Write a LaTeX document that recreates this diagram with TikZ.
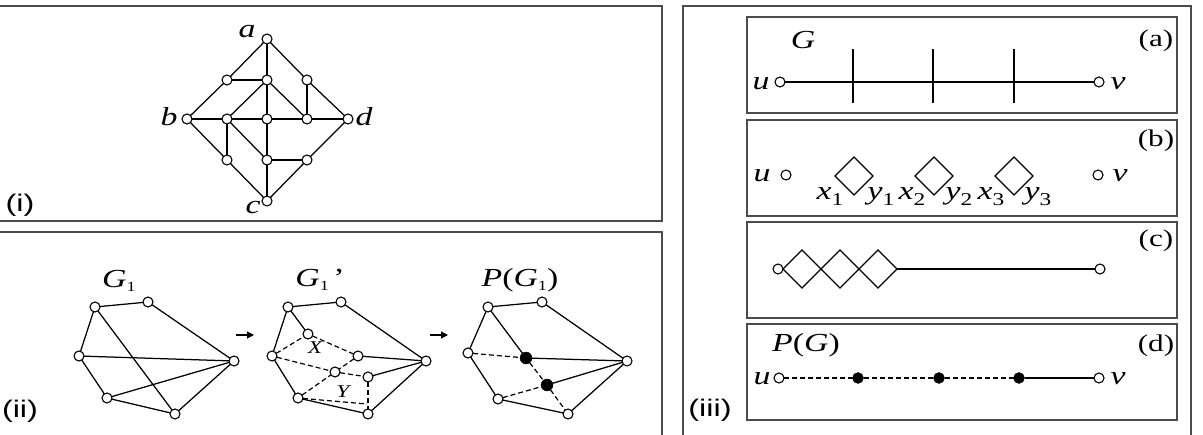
\documentclass[tikz,border=0pt]{standalone}
\usepackage{fontspec}
\setmainfont{Liberation Serif}[FakeStretch=1.3]
\newfontfamily\labsans{Liberation Sans}[FakeStretch=1.35]
\usetikzlibrary{arrows.meta}
\newcommand{\subA}[1]{\raisebox{-4pt}{\upshape\fontsize{14}{14}\selectfont #1}}
\newcommand{\subB}[1]{\raisebox{-6pt}{\upshape\fontsize{18}{18}\selectfont #1}}
\begin{document}
\begin{tikzpicture}[x=1pt,y=-1pt,
  every node/.style={inner sep=0pt, outer sep=0pt},
  vtx/.style={circle, draw, fill=white, minimum size=10pt, line width=1.1pt},
  bvtx/.style={circle, draw, fill=black, minimum size=11pt},
  edge/.style={line width=1.25pt},
  dedge/.style={line width=1.2pt, dash pattern=on 5pt off 3pt},
  panel/.style={draw=black!70, line width=1.7pt},
  txt/.style={font=\fontsize{26}{26}\selectfont\itshape, anchor=base},
  rtxt/.style={font=\fontsize{24}{24}\selectfont, anchor=base},
  stxt/.style={font=\fontsize{24}{24}\selectfont\labsans, anchor=base},
  smtxt/.style={font=\fontsize{18}{18}\selectfont\itshape, anchor=center},
  arr/.style={line width=1.2pt, -{Triangle[length=7pt,width=7pt]}}
]
\useasboundingbox (0,0) rectangle (1203,435);
% panels
\draw[panel] (-5,6) rectangle (662,221);
\draw[panel] (-5,232) rectangle (662,445);
\draw[panel] (683,6) rectangle (1191,445);
\draw[panel] (747,17) rectangle (1177,113);
\draw[panel] (747,120) rectangle (1177,216);
\draw[panel] (747,222) rectangle (1177,318);
\draw[panel] (747,324) rectangle (1177,420);

% ---------- panel (i)
\node[vtx] (ia) at (267,39) {};
\node[vtx] (itl) at (227,80) {};
\node[vtx] (itc) at (267,80) {};
\node[vtx] (itr) at (307,80) {};
\node[vtx] (ib) at (187,119) {};
\node[vtx] (iil) at (227,119) {};
\node[vtx] (ic) at (267,119) {};
\node[vtx] (iir) at (307,119) {};
\node[vtx] (id) at (348,119) {};
\node[vtx] (ibl) at (227,160) {};
\node[vtx] (ibc) at (267,160) {};
\node[vtx] (ibr) at (307,160) {};
\node[vtx] (icc) at (267,201) {};
\foreach \p/\q in {ia/itl,ia/itc,ia/itr,itl/itc,itl/ib,itr/id,itr/iir,itc/iil,itc/ic,itc/iir,
  ib/iil,iil/ic,ic/iir,iir/id,ib/ibl,iil/ibl,iil/ibc,ic/ibc,ibc/ibr,ibr/id,ibl/icc,ibc/icc,ibr/icc}
  \draw[edge] (\p) -- (\q);
\node[txt] (la) at (247,38) {a};
\node[txt] (lb) at (169,126) {b};
\node[txt] (ld) at (364,126) {d};
\node[txt] (lc) at (253,214) {c};
\node[stxt] (li) at (20,212) {(i)};

% ---------- panel (ii): G1
\node[vtx] (gA) at (95,307) {};
\node[vtx] (gB) at (148,302) {};
\node[vtx] (gC) at (79,356) {};
\node[vtx] (gD) at (107,398) {};
\node[vtx] (gE) at (175,414) {};
\node[vtx] (gF) at (234,361) {};
\foreach \p/\q in {gA/gB,gB/gF,gA/gC,gA/gE,gC/gF,gC/gD,gD/gF,gD/gE,gE/gF}
  \draw[edge] (\p) -- (\q);
\node[txt] (lg1) at (119,288) {G\subA{1}};

% G1'
\node[vtx] (hA) at (288,307) {};
\node[vtx] (hB) at (341,302) {};
\node[vtx] (hC) at (272,356) {};
\node[vtx] (hD) at (298,398) {};
\node[vtx] (hE) at (368,414) {};
\node[vtx] (hF) at (426,361) {};
\node[vtx] (hp1) at (308,334) {};
\node[vtx] (hp2) at (358,356) {};
\node[vtx] (hp3) at (335,372) {};
\node[vtx] (hp4) at (368,377) {};
\coordinate (hEy) at (367,404);
\foreach \p/\q in {hA/hB,hB/hF,hA/hC,hC/hD,hD/hE,hE/hF,hA/hp1,hp2/hF,hp4/hF}
  \draw[edge] (\p) -- (\q);
\foreach \p/\q in {hC/hp1,hp1/hp2,hp2/hp3,hC/hp3,hD/hp3,hp3/hp4,hp4/hE,hD/hEy}
  \draw[dedge] (\p) -- (\q);
\node[smtxt] (lX) at (315,348) {X};
\node[smtxt] (lY) at (343,392) {Y};
\node[txt] (lg1p) at (320,287) {G\subA{1}\,\textup{'}};

% P(G1)
\node[vtx] (pA) at (488,307) {};
\node[vtx] (pB) at (542,302) {};
\node[vtx] (pC) at (468,353) {};
\node[vtx] (pD) at (498,399) {};
\node[vtx] (pE) at (568,414) {};
\node[vtx] (pF) at (627,361) {};
\node[bvtx, minimum size=12pt] (pX) at (526,358) {};
\node[bvtx, minimum size=12pt] (pY) at (547,385) {};
\foreach \p/\q in {pA/pB,pB/pF,pA/pC,pC/pD,pD/pE,pE/pF,pA/pX,pX/pF,pY/pF}
  \draw[edge] (\p) -- (\q);
\foreach \p/\q in {pC/pX,pX/pY,pD/pY,pY/pE}
  \draw[dedge] (\p) -- (\q);
\node[txt] (lpg1) at (520,287) {P\textup{(}G\subA{1}\textup{)}};

% arrows
\coordinate (a1s) at (236,335);
\coordinate (a1e) at (254,335);
\coordinate (a2s) at (430,335);
\coordinate (a2e) at (448,335);
\draw[arr] (a1s) -- (a1e);
\draw[arr] (a2s) -- (a2e);
\node[stxt] (lii) at (20,418) {(ii)};

% ---------- panel (iii)
\node[stxt] (liii) at (710,417) {(iii)};
% (a)
\node[vtx] (au) at (780,82) {};
\node[vtx] (av) at (1099,82) {};
\draw[edge] (au) -- (av);
\foreach \x in {853,933,1014} \draw[edge] (\x,49) -- (\x,103);
\node[txt] (aG) at (803,49) {G};
\node[txt] (aul) at (761,90) {u};
\node[txt] (avl) at (1118,90) {v};
\node[rtxt] (alab) at (1156,47) {(a)};
% (b)
\node[vtx] (bu) at (786,175) {};
\node[vtx] (bv) at (1098,175) {};
\foreach \c in {854,934,1014}
  \draw[edge] (\c-19,176) -- (\c,157) -- (\c+19,176) -- (\c,195) -- cycle;
\node[txt] (bul) at (762,182) {u};
\node[txt] (bvl) at (1120,182) {v};
\node[txt] (bx1) at (830,200) {x\subB{1}};
\node[txt] (by1) at (881,200) {y\subB{1}};
\node[txt] (bx2) at (912,200) {x\subB{2}};
\node[txt] (by2) at (959,200) {y\subB{2}};
\node[txt] (bx3) at (991,200) {x\subB{3}};
\node[txt] (by3) at (1038,200) {y\subB{3}};
\node[rtxt] (blab) at (1156,147) {(b)};
% (c)
\node[vtx] (cl) at (778,269) {};
\node[vtx] (cr) at (1100,269) {};
\coordinate (cj) at (897,269);
\draw[edge] (cl.east) -- (802,250) -- (821,269) -- (840,250) -- (859,269) -- (878,250) -- (cj);
\draw[edge] (cl.east) -- (802,288) -- (821,269) -- (840,288) -- (859,269) -- (878,288) -- (cj);
\draw[edge] (cj) -- (cr);
\node[rtxt] (clab) at (1156,247) {(c)};
% (d)
\node[vtx] (du) at (779,378) {};
\node[bvtx] (d1) at (858,378) {};
\node[bvtx] (d2) at (939,378) {};
\node[bvtx] (d3) at (1019,378) {};
\node[vtx] (dv) at (1099,378) {};
\draw[dedge] (du) -- (d1);
\draw[dedge] (d1) -- (d2);
\draw[dedge] (d2) -- (d3);
\draw[edge] (d3) -- (dv);
\node[txt] (dP) at (806,352) {P\textup{(}G\textup{)}};
\node[txt] (dul) at (762,385) {u};
\node[txt] (dvl) at (1118,385) {v};
\node[rtxt] (dlab) at (1156,352) {(d)};
\end{tikzpicture}
\end{document}
